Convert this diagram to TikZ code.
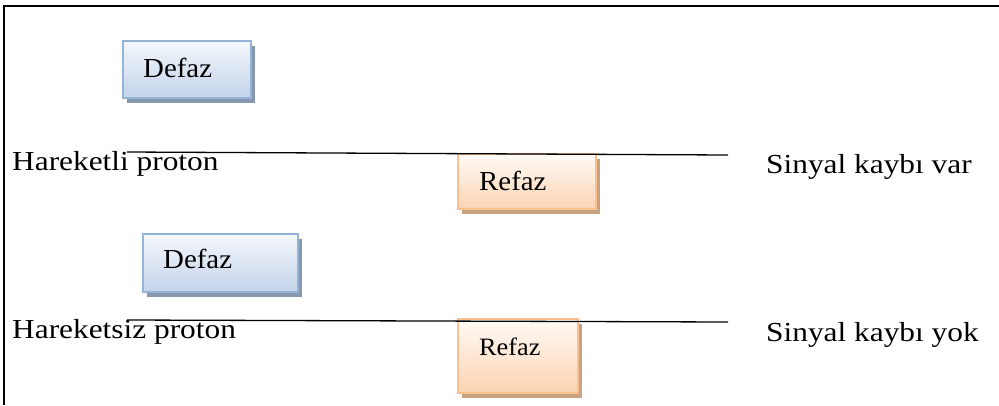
\documentclass[tikz,border=0pt]{standalone}
\usepackage{fontspec}
\usepackage{graphicx}
\setmainfont{Liberation Serif}
\usetikzlibrary{shadows}

\definecolor{defborder}{HTML}{95B3D7}
\definecolor{deftop}{HTML}{F5F8FC}
\definecolor{defbot}{HTML}{C3D3EA}
\definecolor{defshadow}{HTML}{8797AE}
\definecolor{refborder}{HTML}{FAC090}
\definecolor{reftop}{HTML}{FFFBF7}
\definecolor{refbot}{HTML}{FBD3B2}
\definecolor{refshadow}{HTML}{C8A382}

\newcommand{\widetext}[2]{\scalebox{#1}[1]{#2}}

\tikzset{
  defbox/.style={draw=defborder, line width=1.6pt, top color=deftop, bottom color=defbot,
    anchor=north west, inner sep=0pt,
    drop shadow={shadow xshift=4pt, shadow yshift=-5pt, fill=defshadow, opacity=1}},
  refbox/.style={draw=refborder, line width=1.6pt, top color=reftop, bottom color=refbot,
    anchor=north west, inner sep=0pt,
    drop shadow={shadow xshift=4pt, shadow yshift=-5pt, fill=refshadow, opacity=1}},
  lbl/.style={anchor=base west, inner sep=0pt, font=\fontsize{27.5}{33}\selectfont},
  boxlbl/.style={anchor=base west, inner sep=0pt, font=\fontsize{27.5}{33}\selectfont},
  smalllbl/.style={anchor=base west, inner sep=0pt, font=\fontsize{25}{30}\selectfont},
  wire/.style={line width=1.3pt},
  frame/.style={line width=2pt}
}

\begin{document}
\begin{tikzpicture}[x=1pt, y=-1pt]
\useasboundingbox (0,0) rectangle (999,405);

% open frame: top and left edges only
\coordinate (fb) at (4,405);
\coordinate (fc) at (4,6);
\coordinate (fr) at (999,6);
\draw[frame] (fb) -- (fc) -- (fr);

% moving proton row
\node[defbox, minimum width=128pt, minimum height=57pt] (d1) at (122,40) {};
\node[boxlbl] (d1t) at (143,77) {\widetext{1.05}{Defaz}};

\coordinate (l1a) at (127,152);
\coordinate (l1b) at (728,155);
\node[refbox, minimum width=138pt, minimum height=55pt] (r1) at (457,153) {};
\draw[wire] (l1a) -- (l1b);
\node[boxlbl] (r1t) at (479,190) {\widetext{1.05}{Refaz}};

\node[lbl] (h1) at (12,170) {\widetext{1.14}{Hareketli proton}};
\node[lbl] (s1) at (766,173) {\widetext{1.14}{Sinyal kaybı var}};

% stationary proton row
\node[defbox, minimum width=155pt, minimum height=58pt] (d2) at (142,233) {};
\node[boxlbl] (d2t) at (163,268) {\widetext{1.05}{Defaz}};

\coordinate (l2a) at (127,320);
\coordinate (l2b) at (728,322);
\node[refbox, minimum width=120pt, minimum height=74pt] (r2) at (457,318) {};
\draw[wire] (l2a) -- (l2b);
\node[smalllbl] (r2t) at (479,355) {\widetext{1.05}{Refaz}};

\node[lbl] (h2) at (12,338) {\widetext{1.14}{Hareketsiz proton}};
\node[lbl] (s2) at (766,341) {\widetext{1.14}{Sinyal kaybı yok}};
\end{tikzpicture}
\end{document}
